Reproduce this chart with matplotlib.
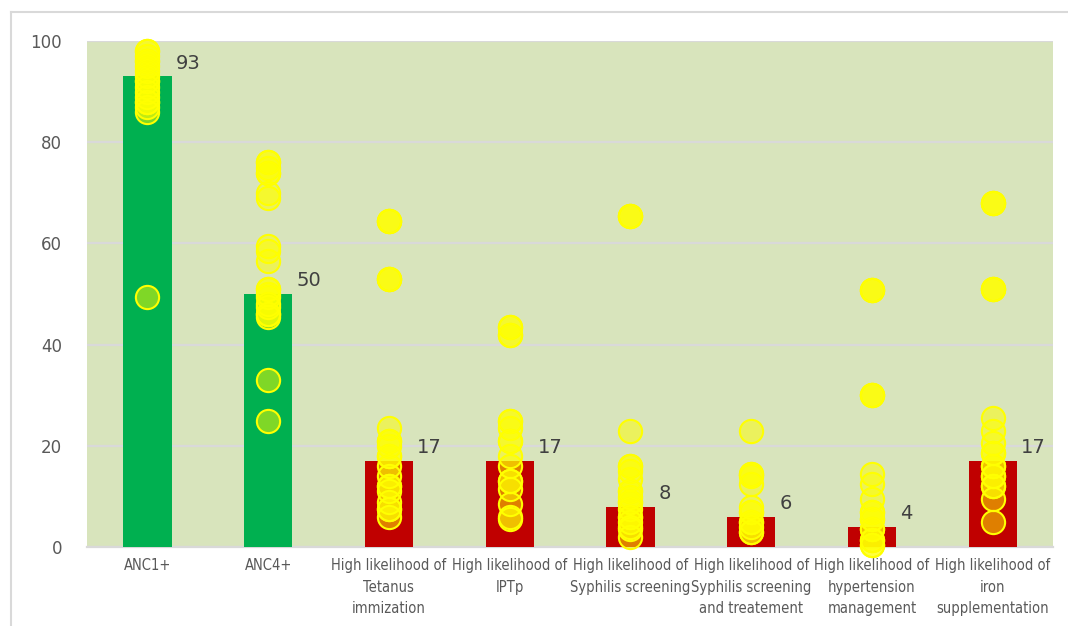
import numpy as np
import matplotlib.pyplot as plt
from matplotlib.lines import Line2D

categories = [
    "ANC1+",
    "ANC4+",
    "High likelihood of\nTetanus\nimmization",
    "High likelihood of\nIPTp",
    "High likelihood of\nSyphilis screening",
    "High likelihood of\nSyphilis screening\nand treatement",
    "High likelihood of\nhypertension\nmanagement",
    "High likelihood of\niron\nsupplementation",
]

bar_values = [93, 50, 17, 17, 8, 6, 4, 17]
bar_colors = ["#00B050", "#00B050", "#C00000", "#C00000",
              "#C00000", "#C00000", "#C00000", "#C00000"]

# per-district points for each indicator (repeated values overlap)
anc1 = [98, 98, 97, 96, 96, 95, 94, 93, 92, 92, 91, 90, 89, 88, 88, 87, 86, 49.5]
anc4 = [76, 76, 75, 74, 74, 70, 69, 59.5, 58.5, 56.5,
        51, 51, 50, 49.5, 48, 47.5, 46, 46, 45.5, 33, 25]
tetanus = [64.5, 64.5, 64.5, 53, 53, 53, 23.5, 21, 21, 20, 18, 18,
           16, 14, 12, 12, 11, 9, 7.5, 7.5, 6]
iptp = [43.5, 43.5, 42, 42, 25, 25, 23.5, 21, 21, 18, 16, 13, 13,
        11.5, 8.5, 6, 5.5]
syph_screen = [65.5, 65.5, 65.5, 23, 16, 16, 15, 13.5, 11, 11, 10, 9, 9,
               7.5, 6, 6, 5, 4, 3.5, 2]
syph_treat = [23, 14.5, 14.5, 14, 12.5, 8, 7, 7, 5, 5, 4, 3, 3]
hypertension = [50.8, 50.8, 50.8, 30, 30, 30, 14.5, 12.5, 9.5, 7, 7, 5.5,
                5.5, 3.5, 3.5, 1.5, 1.5, 0.5, 0.5]
iron = [68, 68, 68, 51, 51, 51, 25.5, 23, 20.5, 18.5, 18.5, 16, 16,
        14, 14, 12, 12, 9.5, 5]

points = [anc1, anc4, tetanus, iptp, syph_screen, syph_treat, hypertension, iron]

fig = plt.figure(figsize=(10.68, 6.26), dpi=100)
ax = fig.add_axes([0.0815, 0.126, 0.9045, 0.8085])
ax.set_facecolor("#D8E4BC")

x = np.arange(len(categories))
ax.bar(x, bar_values, width=0.4, color=bar_colors, zorder=2)

for i, vals in enumerate(points):
    ax.scatter(np.full(len(vals), x[i]), vals, s=280,
               facecolors=(1, 1, 0, 0.5), edgecolors=(1, 1, 0, 1),
               linewidths=1.5, zorder=3, clip_on=False)

for i, v in enumerate(bar_values):
    ax.annotate(str(v), xy=(x[i] + 0.2, v), xytext=(3, 9.5),
                textcoords="offset points", ha="left", va="center",
                fontsize=14, color="#404040", zorder=4)

ax.set_xlim(-0.5, len(categories) - 0.5)
ax.set_ylim(0, 100)
ax.set_yticks(np.arange(0, 101, 20))
ax.yaxis.grid(True, color="#D9D9D9", linewidth=1.6, zorder=0)
ax.set_axisbelow(True)

for side in ["top", "right", "left"]:
    ax.spines[side].set_visible(False)
ax.spines["bottom"].set_color("#D9D9D9")
ax.spines["bottom"].set_linewidth(1.6)
ax.spines["bottom"].set_zorder(1)

ax.tick_params(axis="y", length=0, pad=18, labelsize=12, labelcolor="#595959")
ax.tick_params(axis="x", length=0, pad=8)
ax.set_xticks(x)
ax.set_xticklabels(categories, fontsize=10.5, color="#595959",
                   fontstretch="condensed", linespacing=1.55, va="top")

# chart frame
fig.add_artist(Line2D([11 / 1068, 1], [1 - 12 / 626, 1 - 12 / 626],
                      color="#D9D9D9", linewidth=1.5))
fig.add_artist(Line2D([11 / 1068, 11 / 1068], [0, 1 - 12 / 626],
                      color="#D9D9D9", linewidth=1.5))

fig.savefig("out.png", dpi=100)
